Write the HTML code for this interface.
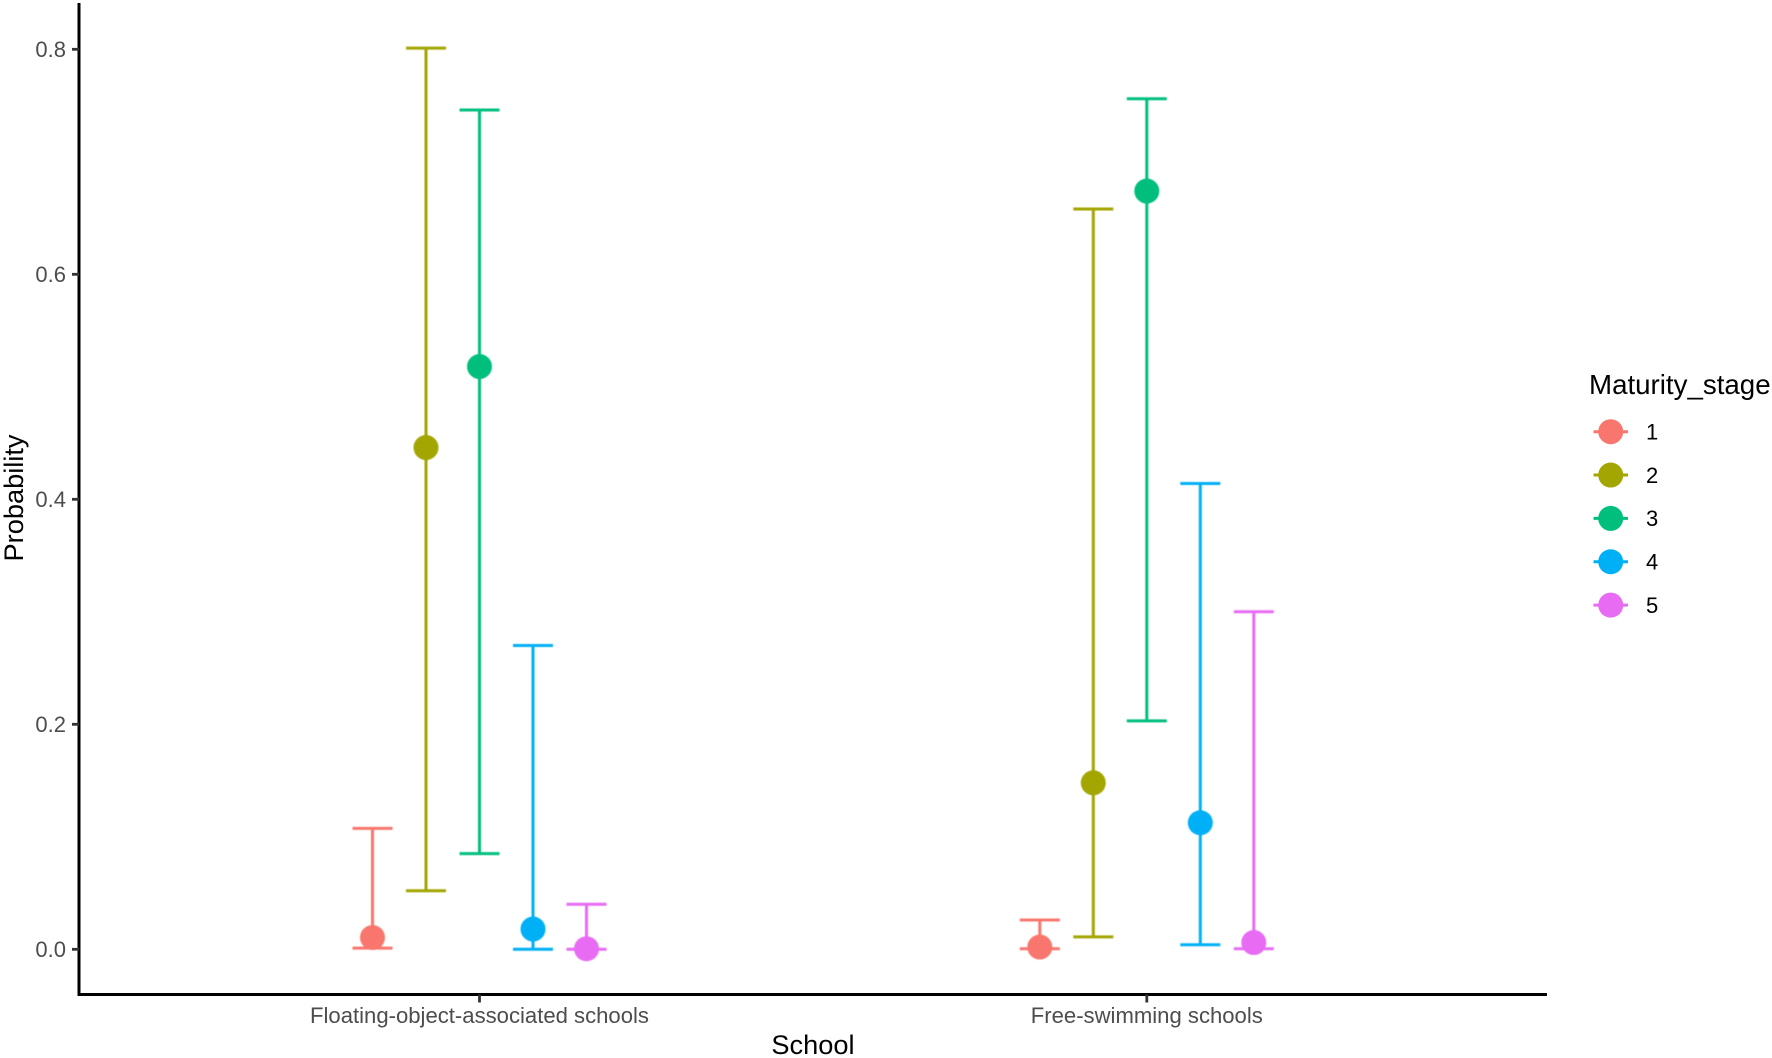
<!DOCTYPE html>
<html>
<head>
<meta charset="utf-8">
<title>Probability by school and maturity stage</title>
<style>
html,body{margin:0;padding:0;background:#fff;}
svg{display:block;font-family:"Liberation Sans",Arial,sans-serif;}
</style>
</head>
<body>
<svg id="chart" xmlns="http://www.w3.org/2000/svg" width="1772" height="1058" viewBox="0 0 1772 1058">
<rect x="0" y="0" width="1772" height="1058" fill="#ffffff"/>
<g id="marks" style="filter:blur(0.4px)"></g>
<g id="axes" style="filter:blur(0.35px)"></g>
<g id="legend" style="filter:blur(0.35px)"></g>
</svg>
<script>
const categories = ['Floating-object-associated schools', 'Free-swimming schools'];
const stages = ['1', '2', '3', '4', '5'];
const colors = ['#F8766D', '#A3A500', '#00BF7D', '#00B0F6', '#E76BF3'];
const yTicks = [0, 0.2, 0.4, 0.6, 0.8];
const yTickLabels = ['0.0', '0.2', '0.4', '0.6', '0.8'];
const floatingPoint = [0.0105, 0.446, 0.518, 0.018, 0.0005];
const floatingUpper = [0.1075, 0.801, 0.746, 0.27, 0.04];
const floatingLower = [0.001, 0.052, 0.085, 0.0, 0.0];
const freePoint = [0.002, 0.148, 0.674, 0.1125, 0.006];
const freeUpper = [0.026, 0.658, 0.756, 0.414, 0.30];
const freeLower = [0.0005, 0.011, 0.203, 0.004, 0.0005];

const NS = 'http://www.w3.org/2000/svg';
const axisX = 79, axisRight = 1547, axisBottom = 994.5, axisTop = 3;
function y(v) { return 949.3 - v * 1125; }
function x(cat, stage) { return 479.5 + cat * 667.3 + (stage - 2) * 53.5; }
function make(tag, attrs, parent) {
  const el = document.createElementNS(NS, tag);
  for (const k in attrs) el.setAttribute(k, attrs[k]);
  parent.appendChild(el);
  return el;
}
const marks = document.getElementById('marks');
const axes = document.getElementById('axes');
const legend = document.getElementById('legend');
const seriesByCat = [
  { point: floatingPoint, upper: floatingUpper, lower: floatingLower, key: 'floating' },
  { point: freePoint, upper: freeUpper, lower: freeLower, key: 'free' }
];
seriesByCat.forEach(function (s, c) {
  stages.forEach(function (st, i) {
    const cx = x(c, i), col = colors[i], cap = 20;
    const stem = make('line', { x1: cx, x2: cx, y1: y(s.upper[i]), y2: y(s.lower[i]), stroke: col, 'stroke-width': 3 }, marks);
    
    
    const top = make('line', { x1: cx - cap, x2: cx + cap, y1: y(s.upper[i]), y2: y(s.upper[i]), stroke: col, 'stroke-width': 3 }, marks);
    
    
    const bot = make('line', { x1: cx - cap, x2: cx + cap, y1: y(s.lower[i]), y2: y(s.lower[i]), stroke: col, 'stroke-width': 3 }, marks);
    
    
    const dot = make('circle', { cx: cx, cy: y(s.point[i]), r: 12.5, fill: col }, marks);
    
    
  });
});

const yAxisLine = make('line', { x1: axisX, x2: axisX, y1: axisTop, y2: axisBottom + 1.5, stroke: '#000', 'stroke-width': 3 }, axes);


const xAxisLine = make('line', { x1: axisX, x2: axisRight, y1: axisBottom, y2: axisBottom, stroke: '#000', 'stroke-width': 3 }, axes);



yTicks.forEach(function (t, i) {
  const tick = make('line', { x1: axisX - 7, x2: axisX, y1: y(t), y2: y(t), stroke: '#333', 'stroke-width': 2.8 }, axes);
  
  
  const lab = make('text', { x: axisX - 13, y: y(t) + 7.8, 'text-anchor': 'end', 'font-size': 22, fill: '#4d4d4d' }, axes);
  lab.textContent = yTickLabels[i];
  
  
});
categories.forEach(function (name, c) {
  const cx = x(c, 2);
  const tick = make('line', { x1: cx, x2: cx, y1: axisBottom, y2: axisBottom + 8, stroke: '#333', 'stroke-width': 2.8 }, axes);
  
  
  const lab = make('text', { x: cx, y: 1023, 'text-anchor': 'middle', 'font-size': 22.1, fill: '#4d4d4d' }, axes);
  lab.textContent = name;
  
  
});
const xTitle = make('text', { x: 813, y: 1054, 'text-anchor': 'middle', 'font-size': 27.2, fill: '#000' }, axes);
xTitle.textContent = 'School';


const yTitle = make('text', { x: 0, y: 0, 'text-anchor': 'middle', 'font-size': 27.2, fill: '#000', transform: 'translate(23,498) rotate(-90)' }, axes);
yTitle.textContent = 'Probability';



const legendTitle = make('text', { x: 1589, y: 394, 'font-size': 27.7, fill: '#000' }, legend);
legendTitle.textContent = 'Maturity_stage';


stages.forEach(function (st, i) {
  const ly = 431.7 + i * 43.35, lx = 1610.7;
  const entry = make('g', {}, legend);
  
  
  make('line', { x1: 1593.5, x2: 1628, y1: ly, y2: ly, stroke: colors[i], 'stroke-width': 3 }, entry);
  make('circle', { cx: lx, cy: ly, r: 12.5, fill: colors[i] }, entry);
  const lab = make('text', { x: 1646, y: ly + 7.8, 'font-size': 22, fill: '#000' }, entry);
  lab.textContent = st;
});
</script>
</body>
</html>
